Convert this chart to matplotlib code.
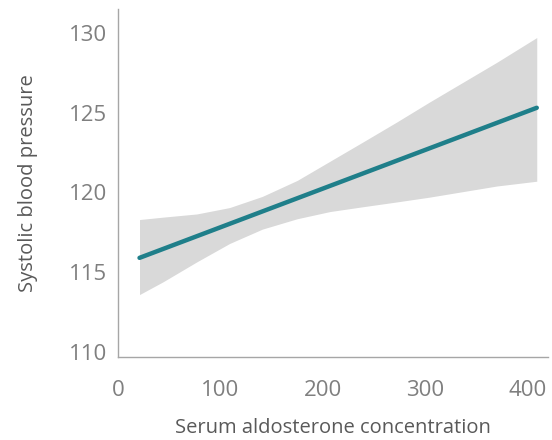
import matplotlib
matplotlib.use("Agg")
import matplotlib.pyplot as plt

# fitted line
line_x = [21, 409]
line_y = [115.9, 125.3]

# confidence band
band_x = [21, 44, 77, 109, 141, 175, 207, 239, 272, 304, 337, 370, 409]
band_hi = [118.3, 118.45, 118.65, 119.05, 119.75, 120.75, 121.95, 123.15, 124.4, 125.65, 126.9, 128.15, 129.7]
band_lo = [113.6, 114.4, 115.65, 116.8, 117.7, 118.35, 118.8, 119.1, 119.4, 119.7, 120.05, 120.4, 120.7]

x_ticks = [0, 100, 200, 300, 400]
y_ticks = [110, 115, 120, 125, 130]

plt.rcParams['font.family'] = ['Open Sans', 'DejaVu Sans']

fig = plt.figure(figsize=(5.52, 4.4), dpi=100)
ax = fig.add_axes([0.2138, 0.189, 0.779, 0.791])

ax.fill_between(band_x, band_lo, band_hi, color="#D9D9D9", linewidth=0)
ax.plot(line_x, line_y, color="#1F7F8A", linewidth=3.2, solid_capstyle="round")

ax.set_xlim(0, 420)
ax.set_ylim(109.7, 131.5)
ax.set_xticks(x_ticks)
ax.set_yticks(y_ticks)
ax.tick_params(length=0, labelsize=16, labelcolor="#7F7F7F")
ax.tick_params(axis="x", pad=17)
ax.tick_params(axis="y", pad=8)

for s in ["top", "right"]:
    ax.spines[s].set_visible(False)
for s in ["left", "bottom"]:
    ax.spines[s].set_color("#A6A6A6")
    ax.spines[s].set_linewidth(1)

ax.set_xlabel("Serum aldosterone concentration", fontsize=14.5, color="#595959", labelpad=12)
ax.set_ylabel("Systolic blood pressure", fontsize=14.5, color="#595959", labelpad=22)

fig.savefig("out.png", dpi=100)
